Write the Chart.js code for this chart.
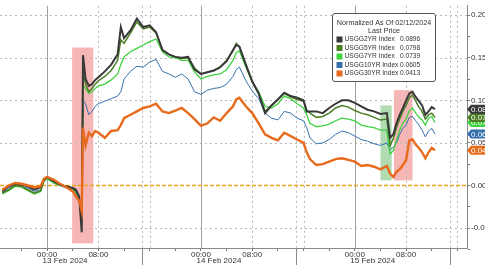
<!DOCTYPE html>
<html>
<head>
<meta charset="utf-8">
<script src="https://cdn.jsdelivr.net/npm/chart.js@4.4.1/dist/chart.umd.min.js"></script>
<style>
  html, body { margin: 0; padding: 0; background: #fff; }
  #wrap { width: 485px; height: 265px; }
</style>
</head>
<body>
<div id="wrap"><canvas id="chart" width="485" height="265"></canvas></div>
<script>
// hours since 13 Feb 2024 00:00
const hours = [-7, -6, -5, -4, -3, -2, -1, -0.5, 0, 1, 2, 3, 4, 4.5, 5, 5.4, 5.6, 6, 6.5, 7, 7.5, 8, 9, 10, 11, 11.5, 12,
  13, 14, 15, 16, 17, 18, 19, 20, 21, 22, 23, 24, 25, 26, 27, 28, 29, 29.5, 30, 31, 32, 33, 34, 35, 36, 37, 38, 39, 40, 40.5,
  41, 42, 43, 44, 45, 46, 47, 48, 49, 50, 51, 52, 53, 53.5, 54, 54.5, 55, 55.5, 56, 56.5, 57, 57.5, 58, 58.5, 59, 59.5, 60, 60.5];

const usgg2yr = [-0.007, -0.001, 0.002, 0.001, -0.001, -0.005, -0.002, 0.007, 0.010, 0.005, 0.001, -0.001, -0.003, -0.005, -0.013, -0.055, 0.153, 0.125, 0.117, 0.119, 0.124, 0.127, 0.134, 0.142, 0.154, 0.186, 0.173,
  0.182, 0.196, 0.186, 0.188, 0.180, 0.159, 0.154, 0.151, 0.150, 0.151, 0.136, 0.131, 0.133, 0.135, 0.139, 0.146, 0.159, 0.165, 0.163, 0.142, 0.122, 0.108, 0.085, 0.094, 0.101, 0.109, 0.105, 0.103, 0.100, 0.087,
  0.087, 0.087, 0.085, 0.091, 0.096, 0.100, 0.100, 0.097, 0.093, 0.089, 0.087, 0.084, 0.085, 0.056, 0.060, 0.073, 0.083, 0.091, 0.100, 0.108, 0.110, 0.104, 0.099, 0.094, 0.083, 0.087, 0.092, 0.0896];

const usgg5yr = [-0.009, -0.005, 0.000, -0.001, -0.005, -0.009, -0.006, 0.006, 0.009, 0.005, 0.001, -0.001, -0.003, -0.007, -0.014, -0.047, 0.133, 0.119, 0.110, 0.114, 0.119, 0.123, 0.128, 0.135, 0.147, 0.171, 0.167,
  0.179, 0.192, 0.184, 0.186, 0.179, 0.159, 0.154, 0.151, 0.149, 0.150, 0.138, 0.131, 0.133, 0.135, 0.139, 0.147, 0.158, 0.167, 0.163, 0.142, 0.122, 0.108, 0.087, 0.094, 0.101, 0.108, 0.104, 0.101, 0.099, 0.088,
  0.085, 0.080, 0.081, 0.085, 0.091, 0.094, 0.092, 0.088, 0.085, 0.083, 0.080, 0.077, 0.078, 0.047, 0.055, 0.068, 0.078, 0.087, 0.094, 0.103, 0.106, 0.099, 0.092, 0.087, 0.078, 0.083, 0.085, 0.0798];

const usgg7yr = [-0.010, -0.006, -0.001, -0.002, -0.006, -0.010, -0.007, 0.005, 0.008, 0.003, 0.000, -0.002, -0.005, -0.008, -0.014, -0.041, 0.117, 0.114, 0.108, 0.110, 0.114, 0.117, 0.119, 0.124, 0.131, 0.142, 0.151,
  0.157, 0.161, 0.165, 0.169, 0.172, 0.157, 0.151, 0.150, 0.147, 0.147, 0.133, 0.125, 0.128, 0.130, 0.131, 0.136, 0.147, 0.156, 0.158, 0.139, 0.122, 0.110, 0.093, 0.091, 0.096, 0.105, 0.102, 0.096, 0.091, 0.083,
  0.073, 0.069, 0.070, 0.072, 0.076, 0.079, 0.078, 0.076, 0.071, 0.069, 0.068, 0.065, 0.065, 0.037, 0.041, 0.053, 0.065, 0.073, 0.078, 0.088, 0.091, 0.085, 0.080, 0.077, 0.071, 0.079, 0.081, 0.0739];

const usgg10yr = [-0.009, -0.003, 0.001, -0.001, -0.003, -0.007, -0.005, 0.006, 0.009, 0.003, 0.000, -0.003, -0.006, -0.009, -0.016, -0.036, 0.100, 0.096, 0.083, 0.087, 0.093, 0.096, 0.099, 0.102, 0.105, 0.110, 0.125,
  0.134, 0.140, 0.139, 0.145, 0.148, 0.134, 0.131, 0.127, 0.131, 0.125, 0.110, 0.107, 0.112, 0.114, 0.115, 0.119, 0.128, 0.136, 0.139, 0.123, 0.111, 0.102, 0.085, 0.079, 0.077, 0.087, 0.085, 0.079, 0.076, 0.068,
  0.056, 0.049, 0.050, 0.054, 0.060, 0.064, 0.062, 0.058, 0.054, 0.052, 0.049, 0.047, 0.050, 0.042, 0.045, 0.050, 0.060, 0.067, 0.071, 0.080, 0.081, 0.076, 0.071, 0.065, 0.057, 0.064, 0.067, 0.0605];

const usgg30yr = [-0.005, 0.000, 0.003, 0.002, 0.000, -0.002, -0.001, 0.008, 0.010, 0.007, 0.002, -0.002, -0.007, -0.013, -0.018, -0.030, 0.068, 0.047, 0.062, 0.058, 0.064, 0.062, 0.056, 0.064, 0.065, 0.071, 0.079,
  0.083, 0.087, 0.091, 0.093, 0.096, 0.087, 0.085, 0.088, 0.091, 0.085, 0.078, 0.070, 0.073, 0.080, 0.076, 0.085, 0.093, 0.101, 0.103, 0.093, 0.085, 0.073, 0.060, 0.056, 0.053, 0.062, 0.058, 0.054, 0.050, 0.039,
  0.031, 0.024, 0.025, 0.028, 0.031, 0.032, 0.030, 0.028, 0.023, 0.024, 0.022, 0.019, 0.023, 0.014, 0.010, 0.016, 0.019, 0.024, 0.030, 0.053, 0.054, 0.048, 0.044, 0.039, 0.032, 0.039, 0.044, 0.0413];

const seriesNames = ["USGG2YR Index", "USGG5YR Index", "USGG7YR Index", "USGG10YR Index", "USGG30YR Index"];
const lastPrices = [0.0896, 0.0798, 0.0739, 0.0605, 0.0413];
const seriesColors = ["#383838", "#4c7f25", "#3fd13f", "#3470ac", "#e86a1c"];

const yTicks = [-0.05, 0, 0.05, 0.10, 0.15, 0.20];
const yMinorTicks = [-0.075, -0.025, 0.025, 0.075, 0.125, 0.175];
const timeTicks = [0, 8, 24, 32, 48, 56];
const timeTickLabels = ["00:00", "08:00", "00:00", "08:00", "00:00", "08:00"];
const timeMinorTicks = [-4, 4, 12, 16, 20, 28, 36, 40, 44, 52, 60, 64];
const midnightHours = [0, 24, 48];
const dottedHours = [8, 16, 32, 40, 56, 64];
const dayBounds = [-9.2, 14.8, 38.8, 62.8];
const dayLabels = ["13 Feb 2024", "14 Feb 2024", "15 Feb 2024"];

// shaded event windows (hours / value range)
const shadeFrom = [3.9, 52.0, 54.1];
const shadeTo = [7.2, 53.75, 57.0];
const shadeLow = [-0.068, 0.006, 0.006];
const shadeHigh = [0.162, 0.094, 0.112];
const shadeColors = ["rgba(235,80,80,0.42)", "rgba(60,165,60,0.40)", "rgba(235,80,80,0.42)"];

const FONT = "'Liberation Sans', Arial, sans-serif";

const series = [usgg2yr, usgg5yr, usgg7yr, usgg10yr, usgg30yr];
const widths = [2, 1.5, 1.3, 1, 2.4];
const drawOrder = [1, 2, 3, 4, 0];

const datasets = series.map((vals, i) => ({
  label: seriesNames[i],
  data: hours.map((h, k) => ({ x: h, y: vals[k] })),
  borderColor: seriesColors[i],
  borderWidth: widths[i],
  pointRadius: 0,
  tension: 0,
  order: drawOrder[i],
}));

function line(ctx, x1, y1, x2, y2) {
  ctx.beginPath();
  ctx.moveTo(x1, y1);
  ctx.lineTo(x2, y2);
  ctx.stroke();
}

const backdrop = {
  id: "backdrop",
  beforeDatasetsDraw(chart) {
    const { ctx, chartArea: a, scales: { x, y } } = chart;
    ctx.save();
    // event windows
    shadeFrom.forEach((f, i) => {
      const x1 = x.getPixelForValue(f), x2 = x.getPixelForValue(shadeTo[i]);
      const y1 = y.getPixelForValue(shadeHigh[i]), y2 = y.getPixelForValue(shadeLow[i]);
      ctx.fillStyle = shadeColors[i];
      ctx.fillRect(x1, y1, x2 - x1, y2 - y1);
    });
    ctx.lineWidth = 1;
    // horizontal grid
    ctx.strokeStyle = "#b8b8b8";
    ctx.setLineDash([2, 3]);
    yTicks.forEach(v => {
      if (v === 0) return;
      const py = Math.round(y.getPixelForValue(v)) + 0.5;
      line(ctx, a.left, py, a.right, py);
    });
    // vertical grid
    dottedHours.concat(dayBounds).forEach(h => {
      const px = Math.round(x.getPixelForValue(h)) + 0.5;
      if (px > a.left && px < a.right) line(ctx, px, a.top, px, a.bottom);
    });
    ctx.setLineDash([]);
    ctx.strokeStyle = "#a0a0a0";
    midnightHours.forEach(h => {
      const px = Math.round(x.getPixelForValue(h)) + 0.5;
      line(ctx, px, a.top, px, a.bottom);
    });
    // zero line
    ctx.strokeStyle = "#e8a81e";
    ctx.lineWidth = 1.5;
    ctx.setLineDash([4, 2]);
    const zy = Math.round(y.getPixelForValue(0)) + 0.5;
    line(ctx, a.left, zy, a.right, zy);
    ctx.restore();
  },
  afterDraw(chart) {
    const { ctx, chartArea: a, scales: { x, y } } = chart;
    ctx.save();
    // day separators and day labels
    ctx.strokeStyle = "#8a8a8a";
    ctx.lineWidth = 1;
    dayBounds.forEach(h => {
      const px = Math.round(x.getPixelForValue(h)) + 0.5;
      if (px > a.left && px < a.right) line(ctx, px, a.bottom, px, chart.height);
    });
    ctx.fillStyle = "#333";
    ctx.font = "8px " + FONT;
    ctx.textAlign = "center";
    ctx.textBaseline = "middle";
    dayLabels.forEach((t, i) => {
      const px = (x.getPixelForValue(dayBounds[i]) + x.getPixelForValue(dayBounds[i + 1])) / 2;
      ctx.fillText(t, px, a.bottom + 13);
    });
    // last value tags
    ctx.textAlign = "left";
    for (let i = lastPrices.length - 1; i >= 0; i--) {
      const py = y.getPixelForValue(lastPrices[i]);
      const x0 = a.right;
      ctx.fillStyle = seriesColors[i];
      ctx.beginPath();
      ctx.moveTo(x0, py);
      ctx.lineTo(x0 + 4, py - 4.5);
      ctx.lineTo(chart.width + 5, py - 4.5);
      ctx.lineTo(chart.width + 5, py + 4.5);
      ctx.lineTo(x0 + 4, py + 4.5);
      ctx.closePath();
      ctx.fill();
      ctx.fillStyle = "#fff";
      ctx.fillText(lastPrices[i].toFixed(4), x0 + 4, py + 0.5);
    }
    // legend box
    const bx = 332.5, by = 13.5, bw = 103, bh = 68;
    ctx.fillStyle = "rgba(255,255,255,0.95)";
    ctx.strokeStyle = "#555";
    ctx.lineWidth = 1;
    ctx.beginPath();
    ctx.roundRect(bx, by, bw, bh, 2.5);
    ctx.fill();
    ctx.stroke();
    ctx.fillStyle = "#333";
    ctx.font = "7.2px " + FONT;
    ctx.textAlign = "center";
    ctx.fillText("Normalized As Of 02/12/2024", bx + bw / 2, by + 10);
    ctx.fillText("Last Price", bx + bw / 2, by + 18);
    ctx.textAlign = "left";
    ctx.font = "6.6px " + FONT;
    seriesNames.forEach((n, i) => {
      const ry = by + 26 + i * 8.5;
      ctx.fillStyle = seriesColors[i];
      ctx.fillRect(bx + 4, ry - 3, 6, 6);
      ctx.fillStyle = "#333";
      ctx.fillText(n, bx + 12, ry);
      ctx.fillText(lastPrices[i].toFixed(4), bx + 67.5, ry);
    });
    ctx.restore();
  }
};

new Chart(document.getElementById("chart").getContext("2d"), {
  type: "line",
  data: { datasets },
  options: {
    responsive: false,
    animation: false,
    devicePixelRatio: 1,
    layout: { padding: 0 },
    plugins: { legend: { display: false }, tooltip: { enabled: false } },
    scales: {
      x: {
        type: "linear",
        min: -7.35,
        max: 65.5,
        afterBuildTicks: s => {
          s.ticks = timeTicks.concat(timeMinorTicks).sort((p, q) => p - q).map(v => ({ value: v }));
        },
        afterFit: s => { s.height = 17; },
        ticks: {
          autoSkip: false,
          maxRotation: 0,
          padding: -1,
          color: "#333",
          font: { size: 8, family: FONT },
          callback: v => {
            const k = timeTicks.indexOf(v);
            return k >= 0 ? timeTickLabels[k] : "";
          },
        },
        grid: { drawOnChartArea: false, tickLength: 3, color: "#777" },
        border: { color: "#888" },
      },
      y: {
        type: "linear",
        position: "right",
        min: -0.0734,
        max: 0.211,
        afterBuildTicks: s => {
          s.ticks = yTicks.concat(yMinorTicks).sort((p, q) => p - q).map(v => ({ value: v }));
        },
        afterFit: s => { s.width = 18; },
        ticks: {
          padding: 1,
          color: "#333",
          font: { size: 8, family: FONT },
          callback: v => (yTicks.some(t => Math.abs(t - v) < 1e-9) ? v.toFixed(2) : ""),
        },
        grid: { drawOnChartArea: false, tickLength: 3, color: "#777" },
        border: { color: "#888" },
      },
    },
  },
  plugins: [backdrop],
});
</script>
</body>
</html>
